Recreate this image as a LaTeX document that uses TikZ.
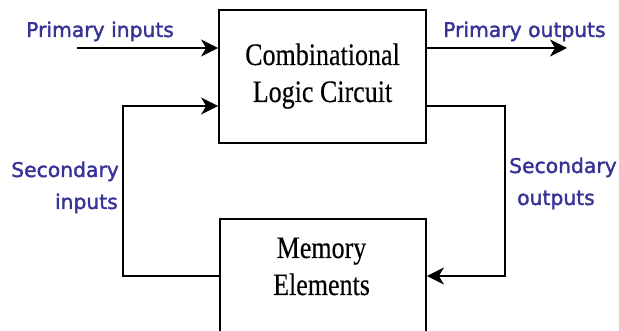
\documentclass[tikz,border=0pt]{standalone}
\usepackage{fontspec}
\usepackage{graphicx}
\usetikzlibrary{arrows.meta}
\newfontfamily\boxfont[FakeBold=0.4]{Liberation Serif}
\newfontfamily\lblfont[FakeBold=1.6]{DejaVu Sans}
\definecolor{lblblue}{RGB}{55,50,150}
\tikzset{
  blk/.style={draw=black, line width=1.8pt, rectangle, inner sep=0pt},
  boxtxt/.style={anchor=base, inner sep=0pt, font=\boxfont\fontsize{26}{30}\selectfont},
  lbl/.style={inner sep=0pt, text=lblblue, font=\lblfont\fontsize{20.3}{24}\selectfont},
  wire/.style={draw=black, line width=1.8pt},
  arr/.style={wire, -{Stealth[length=17pt, width=17pt, inset=5pt]}},
}
\newcommand{\tallbox}[1]{\scalebox{1}[1.2]{#1}}
\begin{document}
\begin{tikzpicture}[x=1pt, y=1pt]
\clip (0,0) rectangle (619,331);
\fill[white] (0,0) rectangle (619,331);
% blocks
\node[blk, minimum width=207pt, minimum height=133pt] (clc) at (322.5,254.5) {};
\node[blk, minimum width=206pt, minimum height=132pt] (mem) at (323,46) {};
% block texts
\node[boxtxt] (t1) at (322.5,266) {\tallbox{Combinational}};
\node[boxtxt] (t2) at (322.5,229) {\tallbox{Logic Circuit}};
\node[boxtxt] (t3) at (321.5,73) {\tallbox{Memory}};
\node[boxtxt] (t4) at (321.5,36) {\tallbox{Elements}};
% labels
\node[lbl, anchor=base west] (lpi) at (26,294) {Primary inputs};
\node[lbl, anchor=base west] (lpo) at (443,294) {Primary outputs};
\node[lbl, anchor=base east] (lsi1) at (119,154) {Secondary};
\node[lbl, anchor=base east] (lsi2) at (118,122) {inputs};
\node[lbl, anchor=base west] (lso1) at (509,158) {Secondary};
\node[lbl, anchor=base west] (lso2) at (517,126) {outputs};
% coordinates
\coordinate (pin) at (77,283);
\coordinate (pout) at (567,283);
\coordinate (sin) at (123,225);
\coordinate (sout) at (505,225);
\coordinate (lbot) at (123,55);
\coordinate (rbot) at (505,55);
% connectors
\draw[arr] (pin) -- (clc.west |- pin);
\draw[arr] (clc.east |- pout) -- (pout);
\draw[arr] (mem.west |- lbot) -- (lbot) -- (sin) -- (clc.west |- sin);
\draw[arr] (clc.east |- sout) -- (sout) -- (rbot) -- (mem.east |- rbot);
\end{tikzpicture}
\end{document}
